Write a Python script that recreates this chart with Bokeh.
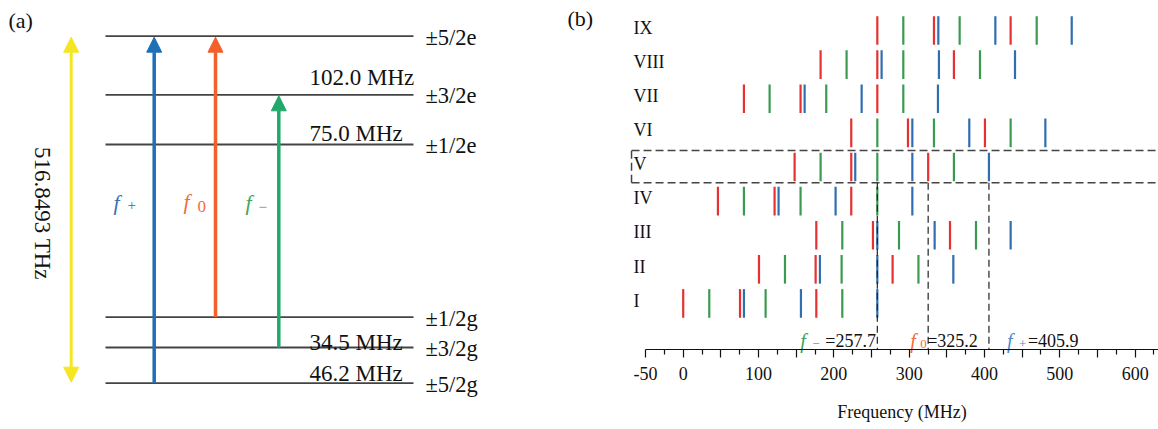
import math
from bokeh.plotting import figure
from bokeh.layouts import row
from bokeh.models import Range1d, Arrow, NormalHead, FixedTicker, ColumnDataSource
from bokeh.core.properties import value
from bokeh.embed import file_html
from bokeh.resources import INLINE

SERIF = "Liberation Serif"
SERIF_Q = "'Liberation Serif', 'Times New Roman', serif"

# ---------------- data ----------------
# panel (a): hyperfine levels and splittings
excited_levels = ["±5/2e", "±3/2e", "±1/2e"]
ground_levels = ["±1/2g", "±3/2g", "±5/2g"]
splitting_labels = ["102.0 MHz", "75.0 MHz", "34.5 MHz", "46.2 MHz"]
optical_label = "516.8493 THz"
transition_names = ["+", "0", "−"]

# panel (b): line frequencies (MHz) per class, three colours
rows_lbl = ["I", "II", "III", "IV", "V", "VI", "VII", "VIII", "IX"]
red_lines = [[0.0, 75.4, 176.7], [100.6, 175.8, 278.0], [176.7, 251.9, 354.2],
             [46.1, 121.3, 223.1], [147.9, 223.1, 325.2], [223.1, 298.4, 400.6],
             [80.6, 155.8, 257.7], [182.4, 257.7, 359.4], [257.7, 332.9, 434.7]]
green_lines = [[34.6, 109.4, 211.2], [135.1, 210.3, 312.3], [211.2, 286.5, 388.7],
               [80.6, 155.8, 257.7], [182.4, 257.7, 359.4], [257.7, 332.9, 434.7],
               [114.7, 189.9, 292.2], [216.9, 292.2, 394.0], [292.2, 367.0, 469.3]]
blue_lines = [[80.6, 156.3, 257.7], [181.5, 257.7, 358.6], [257.7, 333.8, 434.7],
              [126.6, 202.3, 304.2], [228.4, 304.2, 405.9], [304.2, 379.8, 480.8],
              [161.2, 236.9, 338.2], [263.4, 339.5, 440.5], [338.7, 414.4, 515.8]]
f_minus, f_zero, f_plus = 257.7, 325.2, 405.9
tick_major = list(range(-50, 651, 50))
tick_minor = list(range(-25, 651, 50))
tick_unlabeled = list(range(50, 651, 100))

# ---------------- styles ----------------
C_RED, C_GREEN, C_BLUE = "#E53131", "#3A9A50", "#2F6EB0"
A_BLUE, A_ORANGE, A_GREEN, A_YELLOW = "#1F6FB8", "#F2602B", "#22A86B", "#F5E623"
H = 429

# ---------------- panel (a) ----------------
pa = figure(width=488, height=H, x_range=Range1d(0, 488), y_range=Range1d(H, 0),
            x_axis_type=None, y_axis_type=None, toolbar_location=None,
            output_backend="svg", min_border=0)
pa.outline_line_color = None

level_y = [35.7, 94.3, 144.0, 316.7, 347.0, 382.7]   # schematic layout
pa.segment(x0=105, x1=413, y0=level_y, y1=level_y, line_color="#444444", line_width=1.8)
pa.text(x=425, y=[v + 1 for v in level_y], text=excited_levels + ground_levels,
        text_font=value(SERIF), text_font_size="22.5px", text_baseline="alphabetic",
        text_align="left", text_color="#111111")
pa.text(x=309, y=[76.7, 133.3, 341.7, 373.3], text=splitting_labels,
        text_font=value(SERIF), text_font_size="23px", text_baseline="alphabetic",
        text_align="left", text_color="#111111")

# yellow optical double arrow
pa.add_layout(Arrow(start=NormalHead(size=15, fill_color=A_YELLOW, line_color=A_YELLOW),
                    end=NormalHead(size=15, fill_color=A_YELLOW, line_color=A_YELLOW),
                    x_start=70.7, y_start=381.7, x_end=70.7, y_end=36.7,
                    line_color=A_YELLOW, line_width=3))
# transitions: f+ (5/2g -> 5/2e), f0 (1/2g -> 5/2e), f- (3/2g -> 3/2e)
arrows = [(153.7, level_y[5], level_y[0], A_BLUE),
          (215.0, level_y[3], level_y[0], A_ORANGE),
          (278.3, level_y[4], level_y[1], A_GREEN)]
for x, y0, y1, c in arrows:
    pa.add_layout(Arrow(end=NormalHead(size=15, fill_color=c, line_color=c),
                        x_start=x, y_start=y0, x_end=x, y_end=y1 + 1,
                        line_color=c, line_width=3.5))

pa.text(x=41.7, y=213, text=[optical_label], angle=-math.pi / 2,
        text_font=value(SERIF), text_font_size="23px", text_align="center",
        text_baseline="middle", text_color="#111111")
pa.text(x=8, y=20, text=["(a)"], text_font=value(SERIF), text_font_size="22px",
        text_align="left", text_baseline="middle", text_color="#111111")
pa.text(x=[113, 183, 245], y=[201.7, 200.5, 202.0], text=["f", "f", "f"],
        text_font=value(SERIF), text_font_style="italic", text_font_size="22px",
        text_align="left", text_baseline="alphabetic",
        text_color=["#3D6FB6", "#EF6D43", "#45A457"])
pa.text(x=[127, 197, 258], y=[204.5, 205.5, 206.0], text=transition_names,
        text_font=value(SERIF), text_font_size=["15px", "17px", "15px"],
        text_align="left", text_baseline="alphabetic",
        text_color=["#3D6FB6", "#EF6D43", "#45A457"])

# ---------------- panel (b) ----------------
pb = figure(width=670, height=H, x_range=Range1d(-258.5, 631.0), y_range=Range1d(-2.695, 9.880),
            y_axis_type=None, toolbar_location=None, output_backend="svg", min_border=0)
pb.outline_line_color = None
pb.xgrid.visible = False

ax = pb.xaxis[0]
ax.fixed_location = -0.35
ax.bounds = (-50, 700)
ax.ticker = FixedTicker(ticks=tick_major, minor_ticks=tick_minor)
overrides = {t: "" for t in tick_unlabeled}
overrides[-50] = "-50"
ax.major_label_overrides = overrides
ax.axis_line_color = "#111111"
ax.axis_line_width = 1.2
ax.major_tick_out = 8
ax.major_tick_in = 0
ax.minor_tick_out = 5
ax.minor_tick_in = 0
ax.major_tick_line_color = "#111111"
ax.minor_tick_line_color = "#111111"
ax.major_tick_line_width = 1.2
ax.minor_tick_line_width = 1.2
ax.major_label_text_font = SERIF_Q
ax.major_label_text_font_size = "18px"
ax.major_label_text_color = "#111111"
ax.major_label_standoff = 10
ax.axis_label = "Frequency (MHz)"
ax.axis_label_text_font = SERIF_Q
ax.axis_label_text_font_size = "18px"
ax.axis_label_text_font_style = "normal"
ax.axis_label_text_color = "#111111"
ax.axis_label_standoff = 18

half = 0.42
for lines, col in [(red_lines, C_RED), (green_lines, C_GREEN), (blue_lines, C_BLUE)]:
    xs, y0, y1 = [], [], []
    for i, vals in enumerate(lines):
        for v in vals:
            xs.append(v)
            y0.append(i + 1 - half)
            y1.append(i + 1 + half)
    src = ColumnDataSource(dict(x=xs, y0=y0, y1=y1))
    pb.segment(x0="x", x1="x", y0="y0", y1="y1", source=src, line_color=col, line_width=2.2)

pb.text(x=-65.9, y=[i + 1.08 for i in range(len(rows_lbl))], text=rows_lbl,
        text_font=value(SERIF), text_font_size="18px", text_align="left",
        text_baseline="middle", text_color="#111111")
pb.text(x=-153.6, y=9.352, text=["(b)"], text_font=value(SERIF), text_font_size="22px",
        text_align="left", text_baseline="middle", text_color="#111111")

# dashed box around class V and guide lines
box_lo, box_hi, box_left = 5 - 0.464, 5 + 0.483, -68.6
pb.segment(x0=box_left, x1=700, y0=[box_lo, box_hi], y1=[box_lo, box_hi],
           line_color="#444444", line_width=1.5, line_dash="8 4")
pb.segment(x0=box_left, x1=box_left, y0=box_lo, y1=box_hi,
           line_color="#444444", line_width=1.5, line_dash="8 4")
fvals = [f_minus, f_zero, f_plus]
pb.segment(x0=fvals, x1=fvals, y0=box_lo, y1=-0.35,
           line_color="#222222", line_width=1.2, line_dash="7 4")

ann_cols = ["#3DA35A", "#F26B3A", "#4A8CCB"]
pb.text(x=fvals, y=-0.115, x_offset=[-77, -18, 18], text=["f", "f", "f"],
        text_font=value(SERIF), text_font_style="italic", text_font_size="20px",
        text_align="left", text_baseline="alphabetic", text_color=ann_cols)
pb.text(x=fvals, y=-0.2, x_offset=[-65, -8, 30], text=["−", "0", "+"],
        text_font=value(SERIF), text_font_size="13px",
        text_align="left", text_baseline="alphabetic", text_color=ann_cols)
pb.text(x=fvals, y=-0.115, x_offset=[-52, -1, 39], text=[f"={v}" for v in fvals],
        text_font=value(SERIF), text_font_size="18px",
        text_align="left", text_baseline="alphabetic", text_color="#111111")

layout = row(pa, pb)
open("out.html", "w").write(file_html(layout, INLINE))
